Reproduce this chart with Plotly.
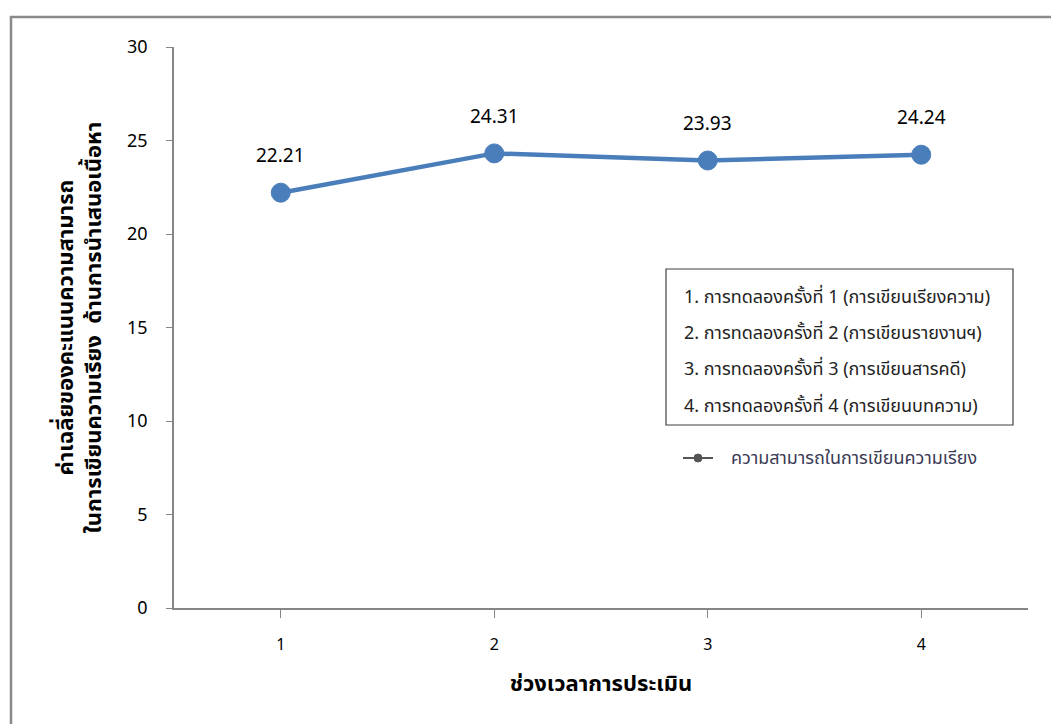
import plotly.graph_objects as go

# Assessment rounds and mean scores
rounds = [1, 2, 3, 4]
scores = [22.21, 24.31, 23.93, 24.24]
y_ticks = [0, 5, 10, 15, 20, 25, 30]

legend_lines = [
    "1. การทดลองครั้งที่ 1 (การเขียนเรียงความ)",
    "2. การทดลองครั้งที่ 2 (การเขียนรายงานฯ)",
    "3. การทดลองครั้งที่ 3 (การเขียนสารคดี)",
    "4. การทดลองครั้งที่ 4 (การเขียนบทความ)",
]
series_name = "ความสามารถในการเขียนความเรียง"
x_title = "ช่วงเวลาการประเมิน"
y_title = "ค่าเฉลี่ยของคะแนนความสามารถ<br>ในการเขียนความเรียง  ด้านการนำเสนอเนื้อหา"

FONT = "Tahoma, 'Noto Sans Thai', 'Noto Sans', sans-serif"
BLUE = "#4A7EBB"
GREY = "#868686"

# plot area geometry (pixels)
W, H = 1051, 724
L, R, T, B = 174, 23, 47, 116
pw, ph = W - L - R, H - T - B


def px_x(x):
    return (x - L) / pw


def px_y(y):
    return (H - B - y) / ph


fig = go.Figure()
fig.add_trace(go.Scatter(
    x=rounds, y=scores, mode="lines+markers",
    line=dict(color=BLUE, width=4.5),
    marker=dict(size=19, color=BLUE, line=dict(color=BLUE, width=1)),
    showlegend=False, hoverinfo="x+y",
))

annotations = []
for xv, yv in zip(rounds, scores):
    annotations.append(dict(
        x=xv, y=yv, text=f"{yv:.2f}", showarrow=False, yshift=36,
        font=dict(family=FONT, size=19, color="#000000"),
    ))

# boxed note listing the trials
box_x0, box_x1 = px_x(666), px_x(1013)
box_y0, box_y1 = px_y(425), px_y(269)
line_y = [297, 333, 370, 406]
for txt, yy in zip(legend_lines, line_y):
    annotations.append(dict(
        x=px_x(682), y=px_y(yy), xref="paper", yref="paper", xanchor="left",
        yanchor="middle", text=txt, showarrow=False,
        font=dict(family=FONT, size=18, color="#222222"),
    ))

# series key
annotations.append(dict(
    x=px_x(729), y=px_y(458), xref="paper", yref="paper", xanchor="left",
    yanchor="middle", text=series_name, showarrow=False,
    font=dict(family=FONT, size=18, color="#3a3a55"),
))

# y-axis title (two lines)
annotations.append(dict(
    x=px_x(80), y=0.5, xref="paper", yref="paper", xanchor="center",
    yanchor="middle", text=f"<b>{y_title}</b>", textangle=-90, showarrow=False,
    font=dict(family=FONT, size=22, color="#000000"),
))

shapes = [
    # outer frame
    dict(type="rect", xref="paper", yref="paper", x0=px_x(11), x1=px_x(1080),
         y0=px_y(760), y1=px_y(17), line=dict(color="#8a8a8a", width=2.5),
         fillcolor="rgba(0,0,0,0)", layer="below"),
    # note box
    dict(type="rect", xref="paper", yref="paper", x0=box_x0, x1=box_x1,
         y0=box_y0, y1=box_y1, line=dict(color="#404040", width=1.2),
         fillcolor="white"),
    # key sample
    dict(type="line", xref="paper", yref="paper", x0=px_x(683), x1=px_x(713),
         y0=px_y(458), y1=px_y(458), line=dict(color="#555555", width=2)),
    dict(type="circle", xref="paper", yref="paper", x0=px_x(694), x1=px_x(702),
         y0=px_y(462), y1=px_y(454), line=dict(color="#555555", width=1),
         fillcolor="#555555"),
]

fig.update_layout(
    width=W, height=H,
    margin=dict(l=L, r=R, t=T, b=B, pad=0),
    paper_bgcolor="white", plot_bgcolor="white",
    font=dict(family=FONT),
    annotations=annotations, shapes=shapes,
    xaxis=dict(
        range=[0.5, 4.5], tickmode="array", tickvals=rounds,
        ticktext=[str(r) for r in rounds], tickson="boundaries",
        ticks="outside", ticklen=8, tickcolor=GREY, tickwidth=1.2,
        showline=True, linecolor=GREY, linewidth=1.5, showgrid=False,
        zeroline=False, ticklabelstandoff=13,
        tickfont=dict(family=FONT, size=16, color="#000000"),
        title=dict(text=f"<b>{x_title}</b>", standoff=20,
                   font=dict(family=FONT, size=22, color="#000000")),
    ),
    yaxis=dict(
        range=[0, 30], tickmode="array", tickvals=y_ticks,
        ticks="outside", ticklen=6, tickcolor=GREY, tickwidth=1.2,
        showline=True, linecolor=GREY, linewidth=1.5, showgrid=False,
        zeroline=False, ticklabelstandoff=15,
        tickfont=dict(family=FONT, size=18, color="#000000"),
    ),
)

fig.write_html("out.html")
